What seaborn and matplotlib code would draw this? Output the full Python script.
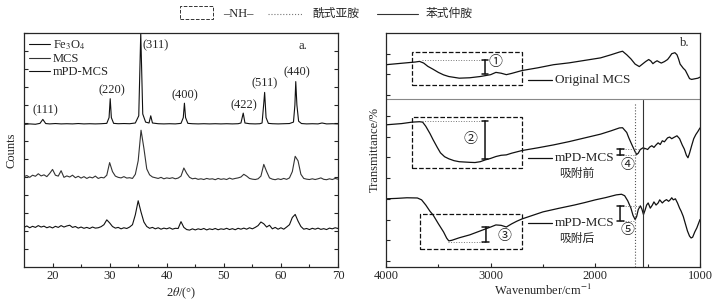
import numpy as np
import pandas as pd
import seaborn as sns
import matplotlib.pyplot as plt
from matplotlib.patches import Rectangle
from matplotlib.lines import Line2D

# ---------------- data ----------------
# XRD, panel a.
fe_x = [15.0, 16.0, 17.0, 17.8, 18.3, 18.8, 19.5, 20.5, 21.5, 22.5, 23.5, 24.5, 25.5,
        26.5, 27.5, 28.5, 29.5, 29.9, 30.1, 30.3, 30.7, 31.5, 32.5, 33.5, 34.5, 35.1,
        35.45, 35.8, 36.3, 36.9, 37.2, 37.5, 38.5, 39.5, 40.5, 41.5, 42.5, 42.9, 43.1,
        43.3, 43.7, 44.5, 45.5, 46.5, 47.5, 48.5, 49.5, 50.5, 51.5, 52.5, 53.0, 53.4,
        53.7, 54.5, 55.5, 56.3, 56.7, 57.0, 57.15, 57.4, 57.8, 58.5, 59.5, 60.5, 61.5,
        62.2, 62.45, 62.6, 62.8, 63.1, 63.6, 64.5, 65.5, 66.5, 67.2, 68.0, 69.0, 70.0]
fe_y = [7.92, 7.95, 7.93, 7.98, 8.20, 7.97, 7.95, 7.97, 7.95, 7.96, 7.95, 7.97, 7.95,
        7.96, 7.95, 7.96, 7.98, 8.30, 9.35, 8.30, 7.98, 7.96, 7.97, 7.96, 8.00, 8.40,
        13.0, 8.50, 8.05, 8.00, 8.40, 8.00, 7.96, 7.95, 7.96, 7.95, 7.98, 8.30, 9.10,
        8.30, 7.98, 7.96, 7.95, 7.96, 7.95, 7.96, 7.95, 7.96, 7.95, 7.96, 8.00, 8.55,
        8.00, 7.96, 7.95, 7.96, 8.00, 9.10, 9.70, 8.30, 7.98, 7.96, 7.95, 7.96, 7.97,
        8.05, 9.00, 10.3, 9.00, 8.10, 7.97, 7.95, 7.96, 7.95, 8.00, 7.95, 7.96, 7.95]

two_theta = np.arange(15, 70.01, 0.5)
mcs_y = [5.02, 5.08, 4.98, 5.10, 5.04, 5.18, 5.06, 5.12, 5.02, 5.20, 5.42, 5.10, 5.05,
         5.35, 4.98, 5.06, 5.00, 5.10, 4.96, 5.04, 4.94, 5.02, 4.92, 5.00, 4.95, 5.05,
         4.92, 4.98, 4.95, 5.10, 5.80, 5.30, 5.05, 4.98, 4.95, 5.02, 4.94, 4.96, 4.92,
         5.15, 5.90, 7.60, 6.60, 5.45, 5.12, 5.00, 4.96, 4.92, 4.98, 4.90, 4.95, 4.92,
         4.96, 4.90, 4.94, 5.05, 5.50, 5.20, 4.98, 4.90, 4.93, 4.87, 4.90, 4.86, 4.92,
         4.88, 4.90, 4.85, 4.92, 4.87, 4.90, 4.86, 4.94, 4.88, 4.92, 4.95, 5.00, 5.15,
         5.05, 4.92, 4.88, 4.86, 4.90, 5.05, 5.70, 5.30, 4.95, 4.88, 4.85, 4.90, 4.86,
         4.92, 4.87, 4.95, 5.30, 6.15, 5.90, 5.15, 4.92, 4.88, 4.86, 4.90, 4.86, 4.90,
         4.95, 4.87, 4.85, 4.90, 4.86, 4.92, 4.88]
mpd_y = [2.20, 2.28, 2.18, 2.26, 2.20, 2.30, 2.22, 2.27, 2.18, 2.24, 2.17, 2.26, 2.20,
         2.30, 2.22, 2.28, 2.32, 2.20, 2.25, 2.16, 2.22, 2.15, 2.20, 2.14, 2.22, 2.16,
         2.18, 2.24, 2.35, 2.62, 2.45, 2.25, 2.16, 2.20, 2.12, 2.18, 2.14, 2.22, 2.35,
         2.90, 3.68, 3.05, 2.50, 2.25, 2.15, 2.20, 2.12, 2.18, 2.10, 2.16, 2.12, 2.18,
         2.10, 2.15, 2.14, 2.52, 2.20, 2.08, 2.05, 2.12, 2.06, 2.12, 2.08, 2.14, 2.06,
         2.12, 2.08, 2.14, 2.07, 2.12, 2.09, 2.15, 2.08, 2.13, 2.07, 2.15, 2.10, 2.16,
         2.10, 2.18, 2.12, 2.20, 2.30, 2.50, 2.40, 2.22, 2.32, 2.12, 2.20, 2.10, 2.18,
         2.10, 2.22, 2.35, 2.75, 2.92, 2.55, 2.25, 2.10, 2.14, 2.08, 2.15, 2.10, 2.16,
         2.09, 2.13, 2.08, 2.16, 2.12, 2.18, 2.14]
hkl_labels = ['(111)', '(220)', '(311)', '(400)', '(422)', '(511)', '(440)']
hkl_x = [18.7, 30.4, 38.0, 43.2, 53.5, 57.2, 62.8]
hkl_y = [8.72, 9.8, 12.3, 9.56, 9.0, 10.2, 10.8]

# FTIR, panel b.
orig_w = [4000, 3850, 3720, 3680, 3640, 3600, 3550, 3500, 3450, 3400, 3300, 3200, 3100,
          3000, 2950, 2900, 2850, 2800, 2700, 2550, 2400, 2250, 2100, 1950, 1850, 1770,
          1740, 1700, 1660, 1620, 1580, 1550, 1520, 1490, 1470, 1450, 1430, 1410, 1390,
          1370, 1340, 1310, 1290, 1270, 1240, 1220, 1205, 1190, 1175, 1160, 1140, 1120,
          1100, 1080, 1060, 1040, 1020, 1000]
orig_t = [9.47, 9.54, 9.60, 9.63, 9.55, 9.39, 9.25, 9.10, 8.98, 8.90, 8.82, 8.84, 8.90,
          8.99, 9.10, 9.06, 8.99, 9.05, 9.19, 9.32, 9.47, 9.56, 9.68, 9.80, 9.95, 10.08,
          10.12, 9.95, 9.75, 9.50, 9.38, 9.50, 9.62, 9.72, 9.65, 9.52, 9.60, 9.66, 9.60,
          9.55, 9.62, 9.72, 9.85, 10.0, 10.05, 9.95, 9.75, 9.50, 9.40, 9.30, 9.20, 9.00,
          8.80, 8.76, 8.78, 8.80, 8.82, 8.87]
pre_w = [4000, 3850, 3750, 3680, 3650, 3620, 3580, 3550, 3510, 3480, 3440, 3400, 3350,
         3300, 3200, 3150, 3100, 3050, 3000, 2950, 2900, 2850, 2800, 2700, 2550, 2400,
         2250, 2100, 1950, 1850, 1770, 1740, 1700, 1680, 1650, 1620, 1605, 1590, 1570,
         1545, 1520, 1500, 1480, 1460, 1440, 1420, 1400, 1380, 1360, 1340, 1310, 1290,
         1270, 1250, 1220, 1195, 1170, 1150, 1130, 1115, 1100, 1080, 1060, 1040, 1020, 1000]
pre_t = [6.57, 6.63, 6.70, 6.72, 6.70, 6.50, 6.15, 5.85, 5.48, 5.22, 5.03, 4.93, 4.84,
         4.79, 4.76, 4.75, 4.79, 4.88, 4.95, 5.04, 5.10, 5.12, 5.20, 5.33, 5.46, 5.60,
         5.76, 5.94, 6.12, 6.28, 6.42, 6.43, 6.20, 5.94, 5.60, 5.27, 5.14, 5.20, 5.38,
         5.46, 5.42, 5.38, 5.50, 5.56, 5.48, 5.60, 5.70, 5.62, 5.80, 5.75, 5.94, 5.98,
         5.90, 5.96, 6.04, 5.90, 5.60, 5.40, 5.10, 4.98, 5.20, 5.56, 5.90, 6.10, 6.25, 6.42]
post_w = [4000, 3900, 3800, 3700, 3660, 3620, 3580, 3550, 3500, 3450, 3420, 3400, 3370,
          3300, 3200, 3100, 3000, 2950, 2900, 2850, 2800, 2750, 2700, 2600, 2500, 2350,
          2200, 2100, 2000, 1900, 1800, 1750, 1720, 1690, 1660, 1640, 1620, 1605, 1590,
          1570, 1555, 1540, 1525, 1510, 1495, 1475, 1455, 1440, 1420, 1400, 1385, 1360,
          1340, 1320, 1300, 1285, 1270, 1255, 1235, 1215, 1195, 1180, 1160, 1140, 1120,
          1100, 1085, 1070, 1050, 1030, 1015, 1000]
post_t = [3.00, 3.02, 3.05, 3.04, 2.95, 2.70, 2.40, 2.22, 1.80, 1.40, 1.10, 0.97, 1.00,
          1.12, 1.26, 1.45, 1.64, 1.74, 1.72, 1.64, 1.79, 1.92, 2.03, 2.20, 2.37, 2.54,
          2.70, 2.82, 2.95, 3.06, 3.19, 3.22, 3.15, 2.90, 2.55, 2.20, 2.00, 2.15, 2.48,
          2.66, 2.50, 2.24, 2.45, 2.70, 2.80, 2.55, 2.70, 2.85, 2.70, 2.80, 2.95, 2.80,
          2.90, 2.96, 2.88, 2.95, 3.05, 2.95, 3.00, 2.80, 2.55, 2.40, 2.15, 1.80, 1.45,
          1.20, 1.11, 1.15, 1.40, 1.60, 1.80, 2.00]

# ---------------- style ----------------
sns.set_style("ticks")
plt.rcParams['font.family'] = ['Liberation Serif', 'Noto Sans CJK SC']
plt.rcParams['mathtext.fontset'] = 'stix'
plt.rcParams['axes.linewidth'] = 0.9
fs = 9

fig = plt.figure(figsize=(7.23, 3.03), dpi=100)
ax1 = fig.add_axes([24 / 723, 36 / 303, 314 / 723, 234 / 303])
ax2 = fig.add_axes([386 / 723, 36 / 303, 314 / 723, 234 / 303])

# ---------------- panel a ----------------
sns.lineplot(x=fe_x, y=fe_y, ax=ax1, color='#111111', lw=0.8, label='Fe$_3$O$_4$', estimator=None)
sns.lineplot(x=two_theta, y=mcs_y, ax=ax1, color='#333333', lw=0.8, label='MCS', estimator=None)
sns.lineplot(x=two_theta, y=mpd_y, ax=ax1, color='#111111', lw=0.8, label='mPD-MCS', estimator=None)
ax1.set_xlim(15, 70)
ax1.set_ylim(0, 13)
ax1.set_xticks([20, 30, 40, 50, 60, 70])
ax1.set_xticks([25, 35, 45, 55, 65], minor=True)
ax1.set_yticks(range(1, 14))
ax1.set_yticklabels([])
ax1.tick_params(direction='in', which='both', left=True, right=True, top=False,
                labelsize=fs, pad=2, length=3, width=0.8)
ax1.tick_params(which='minor', length=2)
ax1.set_xlabel(r'2$\theta$/(°)', fontsize=fs)
ax1.set_ylabel('Counts', fontsize=fs)
ax1.xaxis.set_label_coords(0.5, -0.078)
ax1.yaxis.set_label_coords(-0.022, 0.5)
for lab, x, y in zip(hkl_labels, hkl_x, hkl_y):
    ax1.text(x, y, lab, fontsize=fs, ha='center', va='center')
ax1.text(0.889, 0.944, 'a.', transform=ax1.transAxes, fontsize=fs, ha='center', va='center')
ax1.legend(loc='upper left', frameon=False, fontsize=fs, handlelength=1.7,
           handletextpad=0.2, labelspacing=0.1, borderaxespad=0.1, borderpad=0.3)

# ---------------- panel b ----------------
for w, t in [(orig_w, orig_t), (pre_w, pre_t), (post_w, post_t)]:
    sns.lineplot(x=w, y=t, ax=ax2, color='#111111', lw=0.9, estimator=None, legend=False)
ax2.set_xlim(4000, 1000)
ax2.set_ylim(-0.29, 11)
ax2.set_xticks([4000, 3000, 2000, 1000])
ax2.set_xticks([3500, 2500, 1500], minor=True)
ax2.set_yticks(range(0, 11))
ax2.set_yticklabels([])
ax2.tick_params(direction='in', which='both', left=True, right=False, top=False,
                labelsize=fs, pad=2, length=3, width=0.8)
ax2.tick_params(which='minor', length=2)
ax2.set_xlabel('Wavenumber/cm$^{-1}$', fontsize=fs)
ax2.set_ylabel('Transmittance/%', fontsize=fs)
ax2.xaxis.set_label_coords(0.5, -0.066)
ax2.yaxis.set_label_coords(-0.016, 0.5)

ax2.axhline(7.83, color='#888888', lw=0.8)
ax2.plot([1621, 1621], [-0.29, 7.63], ls=':', color='#555555', lw=0.8)
ax2.plot([1548, 1548], [-0.29, 7.78], ls='-', color='#333333', lw=0.8)

# dashed -NH- boxes
for (x0, x1, y0, y1) in [(3752, 2701, 8.5, 10.1), (3752, 2701, 4.49, 6.96), (3675, 2701, 0.58, 2.27)]:
    ax2.add_patch(Rectangle((x0, y0), x1 - x0, y1 - y0, fill=False, ls='--', lw=0.9, ec='#111111'))

def ibar(x, y0, y1):
    ax2.annotate('', xy=(x, y1), xytext=(x, y0),
                 arrowprops=dict(arrowstyle='|-|,widthA=0.25,widthB=0.25', lw=1.1,
                                 color='#111111', shrinkA=0, shrinkB=0))

dot = dict(ls=':', color='#777777', lw=0.7)
ax2.plot([3656, 3054], [9.71, 9.71], **dot)
ibar(3054, 9.71, 9.03)
ax2.text(2959, 9.6, '①', fontsize=fs + 1, ha='center', va='center')
ax2.plot([3656, 3054], [6.76, 6.76], **dot)
ibar(3054, 6.76, 4.93)
ax2.text(3197, 5.85, '②', fontsize=fs + 1, ha='center', va='center')
ax2.plot([3408, 3045], [0.92, 0.92], **dot)
ibar(3045, 0.92, 1.64)
ax2.text(2873, 1.16, '③', fontsize=fs + 1, ha='center', va='center')
ax2.plot([1764, 1520], [5.41, 5.41], **dot)
ax2.plot([1764, 1610], [5.10, 5.10], **dot)
ibar(1764, 5.41, 5.10)
ax2.text(1698, 4.6, '④', fontsize=fs + 1, ha='center', va='center')
ax2.plot([1764, 1560], [2.66, 2.66], **dot)
ax2.plot([1764, 1620], [1.95, 1.95], **dot)
ibar(1764, 2.66, 1.95)
ax2.text(1690, 1.45, '⑤', fontsize=fs + 1, ha='center', va='center')

# inline labels
for y, name, sub in [(8.74, 'Original MCS', None), (4.98, 'mPD-MCS', '吸附前'), (1.84, 'mPD-MCS', '吸附后')]:
    ax2.plot([2643, 2414], [y, y], color='#111111', lw=0.9)
    ax2.text(2385, y, name, fontsize=fs + 0.5, ha='left', va='center')
    if sub:
        ax2.text(2180, y - 0.8, sub, fontsize=fs - 0.5, ha='center', va='center')
ax2.text(0.952, 0.957, 'b.', transform=ax2.transAxes, fontsize=fs, ha='center', va='center')

# ---------------- top legend ----------------
yl = 1 - 14 / 303
fig.patches.append(Rectangle((180 / 723, 1 - 19 / 303), 33 / 723, 13 / 303, fill=False,
                             ls='--', lw=0.7, ec='#333333', transform=fig.transFigure))
fig.text(223 / 723, yl, '–NH–', fontsize=fs, ha='left', va='center')
fig.lines.append(Line2D([268 / 723, 303 / 723], [yl, yl], ls=':', color='#777777', lw=0.8,
                        transform=fig.transFigure))
fig.text(312 / 723, yl, '酰式亚胺', fontsize=fs - 0.5, ha='left', va='center')
fig.lines.append(Line2D([377 / 723, 418 / 723], [yl, yl], ls='-', color='#333333', lw=0.8,
                        transform=fig.transFigure))
fig.text(426 / 723, yl, '苯式仲胺', fontsize=fs - 0.5, ha='left', va='center')

plt.savefig('out.png', dpi=100)
